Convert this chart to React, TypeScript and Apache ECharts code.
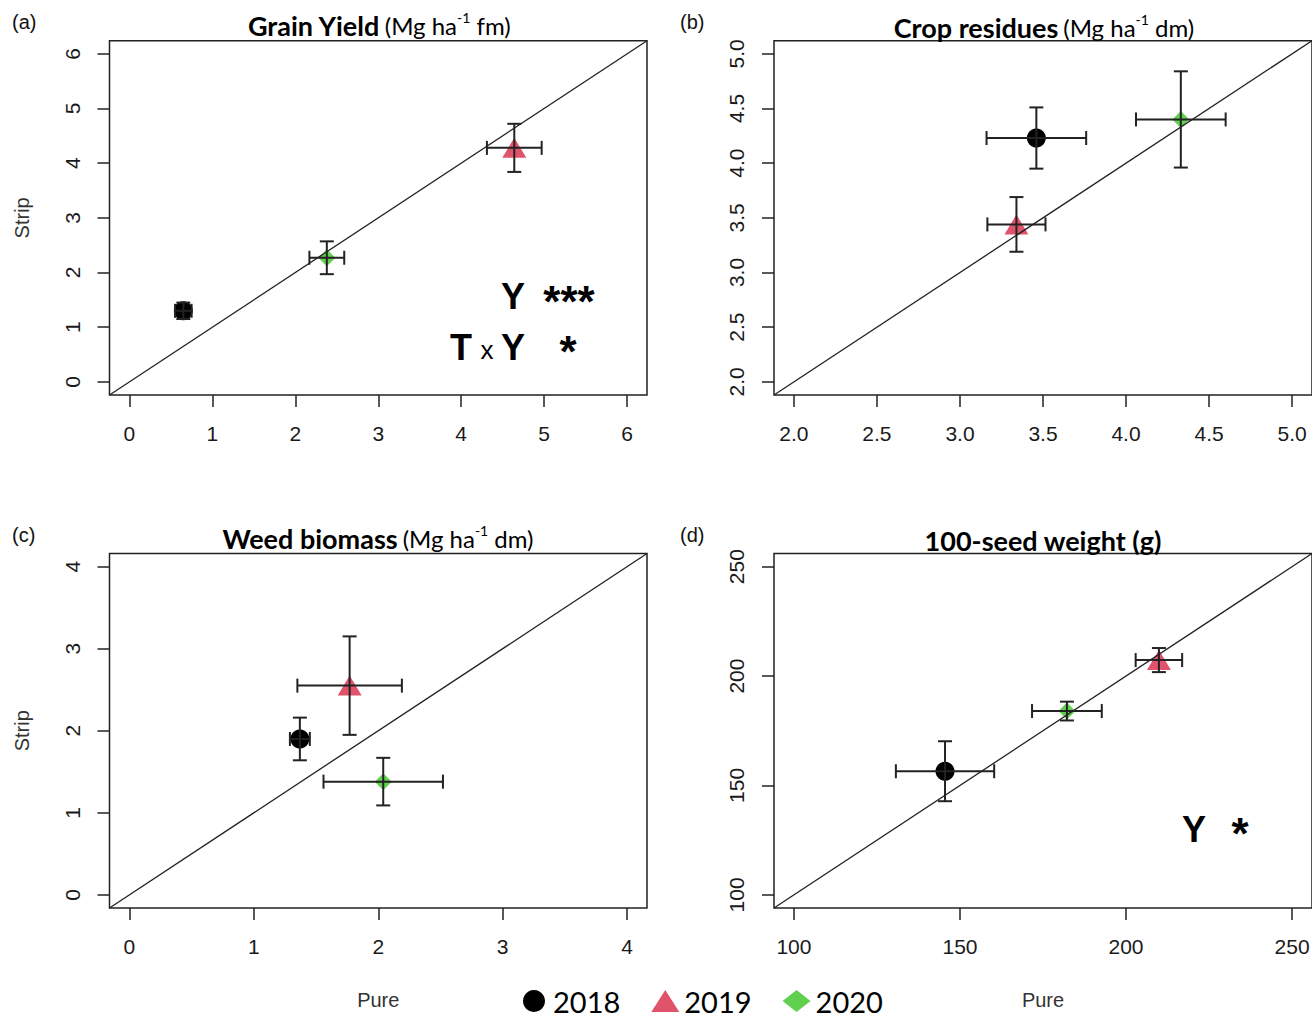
import React, { useEffect, useRef } from "react";
import * as echarts from "echarts";

// ---------------- DATA ----------------
const YEARS = ["2018", "2019", "2020"];
const YEAR_COLORS = ["#000000", "#DF536B", "#61D04F"];
const YEAR_SYMBOLS = ["circle", "triangle", "diamond"];

// (a) Grain yield (Mg ha-1 fm)
const grainPure = [0.65, 4.64, 2.38];
const grainStrip = [1.3, 4.28, 2.27];
const grainPureErr = [0.1, 0.33, 0.21];
const grainStripErr = [0.15, 0.44, 0.3];
const grainTicks = [0, 1, 2, 3, 4, 5, 6];

// (b) Crop residues (Mg ha-1 dm)
const residuePure = [3.46, 3.34, 4.33];
const residueStrip = [4.23, 3.44, 4.4];
const residuePureErr = [0.3, 0.175, 0.27];
const residueStripErr = [0.28, 0.25, 0.44];
const residueTicks = [2.0, 2.5, 3.0, 3.5, 4.0, 4.5, 5.0];

// (c) Weed biomass (Mg ha-1 dm)
const weedPure = [1.37, 1.77, 2.04];
const weedStrip = [1.9, 2.55, 1.38];
const weedPureErr = [0.08, 0.42, 0.48];
const weedStripErr = [0.26, 0.6, 0.29];
const weedTicks = [0, 1, 2, 3, 4];

// (d) 100-seed weight (g)
const seedPure = [145.5, 209.9, 182.2];
const seedStrip = [156.5, 207.3, 184.0];
const seedPureErr = [14.8, 7, 10.5];
const seedStripErr = [13.7, 5.5, 4.3];
const seedTicks = [100, 150, 200, 250];

// ---------------- LAYOUT / STYLE ----------------
const FONT = "'Liberation Sans', Arial, sans-serif";
const TITLE_FONT = "Lato, 'Noto Sans', sans-serif";
const INK = "#222";

const panels = [
  {
    title: "{b|Grain Yield} {n|(Mg ha}{s|-1}{n| fm)}",
    titleX: 379, titleTop: 10, tag: "(a)",
    pure: grainPure, strip: grainStrip, pureErr: grainPureErr, stripErr: grainStripErr,
    ticks: grainTicks, decimals: 0,
    grid: { left: 109.5, top: 40.7, width: 537.5, height: 354.3 },
    yName: "Strip", xName: "",
  },
  {
    title: "{b|Crop residues} {n|(Mg ha}{s|-1}{n| dm)}",
    titleX: 1044, titleTop: 12, tag: "(b)",
    pure: residuePure, strip: residueStrip, pureErr: residuePureErr, stripErr: residueStripErr,
    ticks: residueTicks, decimals: 1,
    grid: { left: 774, top: 40.7, width: 538, height: 354.3 },
    yName: "", xName: "",
  },
  {
    title: "{b|Weed biomass} {n|(Mg ha}{s|-1}{n| dm)}",
    titleX: 378, titleTop: 523, tag: "(c)",
    pure: weedPure, strip: weedStrip, pureErr: weedPureErr, stripErr: weedStripErr,
    ticks: weedTicks, decimals: 0,
    grid: { left: 109.5, top: 553.5, width: 537.5, height: 354.5 },
    yName: "Strip", xName: "Pure",
  },
  {
    title: "{b|100-seed weight (g)}",
    titleX: 1043, titleTop: 525, tag: "(d)",
    pure: seedPure, strip: seedStrip, pureErr: seedPureErr, stripErr: seedStripErr,
    ticks: seedTicks, decimals: 0,
    grid: { left: 774, top: 553.5, width: 538, height: 354.5 },
    yName: "", xName: "Pure",
  },
];

const tagPos = [
  [12, 22],
  [680, 22],
  [12, 535],
  [680, 535],
];

function extent(ticks: number[]) {
  const lo = ticks[0];
  const hi = ticks[ticks.length - 1];
  const pad = (hi - lo) * 0.04;
  return [lo - pad, hi + pad];
}

const errorRender = (params: any, api: any) => {
  const x = api.value(0);
  const y = api.value(1);
  const ex = api.value(2);
  const ey = api.value(3);
  const l = api.coord([x - ex, y]);
  const r = api.coord([x + ex, y]);
  const t = api.coord([x, y + ey]);
  const b = api.coord([x, y - ey]);
  const c = 7;
  const style = { stroke: INK, lineWidth: 2 };
  const ln = (x1: number, y1: number, x2: number, y2: number) => ({
    type: "line",
    shape: { x1, y1, x2, y2 },
    style,
  });
  return {
    type: "group",
    children: [
      ln(l[0], l[1], r[0], r[1]),
      ln(l[0], l[1] - c, l[0], l[1] + c),
      ln(r[0], r[1] - c, r[0], r[1] + c),
      ln(t[0], t[1], b[0], b[1]),
      ln(t[0] - c, t[1], t[0] + c, t[1]),
      ln(b[0] - c, b[1], b[0] + c, b[1]),
    ],
  };
};

function buildOption() {
  const grids: any[] = [];
  const xAxes: any[] = [];
  const yAxes: any[] = [];
  const series: any[] = [];
  const titles: any[] = [];

  panels.forEach((p, i) => {
    const [lo, hi] = extent(p.ticks);
    grids.push({
      ...p.grid,
      show: true,
      borderColor: INK,
      borderWidth: 1.5,
      backgroundColor: "transparent",
      containLabel: false,
      outerBoundsMode: "none",
    });
    const fmt = (v: number) => v.toFixed(p.decimals);
    const common = {
      type: "value",
      gridIndex: i,
      min: lo,
      max: hi,
      axisLine: { show: false, onZero: false },
      splitLine: { show: false },
      axisTick: {
        show: true,
        inside: false,
        length: 12,
        customValues: p.ticks,
        lineStyle: { color: INK, width: 1.5 },
      },
      nameLocation: "middle",
      nameTextStyle: { fontFamily: FONT, fontSize: 20, color: "#333" },
    };
    xAxes.push({
      ...common,
      position: "bottom",
      name: p.xName,
      nameGap: 82,
      axisLabel: {
        customValues: p.ticks,
        formatter: fmt,
        margin: 28,
        fontFamily: FONT,
        fontSize: 21,
        color: "#1a1a1a",
      },
    });
    yAxes.push({
      ...common,
      position: "left",
      name: p.yName,
      nameGap: 78,
      nameRotate: 90,
      axisLabel: {
        customValues: p.ticks,
        formatter: fmt,
        rotate: 90,
        margin: 27,
        fontFamily: FONT,
        fontSize: 21,
        color: "#1a1a1a",
      },
    });

    titles.push({
      text: p.title,
      left: p.titleX,
      top: p.titleTop,
      textAlign: "center",
      padding: 0,
      textStyle: {
        rich: {
          b: {
            fontFamily: TITLE_FONT,
            fontWeight: "bold",
            fontSize: 27,
            color: "#000",
            lineHeight: 30,
          },
          n: {
            fontFamily: TITLE_FONT,
            fontWeight: "normal",
            fontSize: 24,
            color: "#000",
            lineHeight: 30,
          },
          s: {
            fontFamily: TITLE_FONT,
            fontWeight: "normal",
            fontSize: 14,
            color: "#000",
            verticalAlign: "top",
          },
        },
      },
    });

    // markers
    YEARS.forEach((yr, j) => {
      series.push({
        type: "scatter",
        name: yr,
        xAxisIndex: i,
        yAxisIndex: i,
        data: [[p.pure[j], p.strip[j]]],
        symbol: YEAR_SYMBOLS[j],
        symbolSize: j === 0 ? 19 : j === 1 ? [24, 20] : [17, 17],
        itemStyle: { color: YEAR_COLORS[j], opacity: 1 },
        z: 2,
        silent: true,
      });
    });

    // 1:1 line
    series.push({
      type: "line",
      xAxisIndex: i,
      yAxisIndex: i,
      data: [
        [lo, lo],
        [hi, hi],
      ],
      symbol: "none",
      lineStyle: { color: INK, width: 1.3 },
      z: 3,
      silent: true,
    });

    // error bars
    series.push({
      type: "custom",
      xAxisIndex: i,
      yAxisIndex: i,
      data: p.pure.map((x, j) => [x, p.strip[j], p.pureErr[j], p.stripErr[j]]),
      encode: { x: 0, y: 1 },
      renderItem: errorRender,
      z: 4,
      silent: true,
    });
  });

  const tagTexts = panels.map((p, i) => ({
    type: "text",
    x: tagPos[i][0],
    y: tagPos[i][1],
    style: {
      text: p.tag,
      font: `20px ${FONT}`,
      fill: "#111",
      textAlign: "left",
      textVerticalAlign: "middle",
    },
  }));

  const stat = (text: string, x: number, y: number, size: number, bold = true) => ({
    type: "text",
    x,
    y,
    z: 10,
    style: {
      text,
      font: `${bold ? "bold " : ""}${size}px ${FONT}`,
      fill: "#000",
      textAlign: "center",
      textVerticalAlign: "middle",
    },
  });

  return {
    animation: false,
    backgroundColor: "#fff",
    title: titles,
    grid: grids,
    xAxis: xAxes,
    yAxis: yAxes,
    legend: {
      data: [
        { name: "2018", icon: "circle" },
        { name: "2019", icon: "triangle" },
        { name: "2020", icon: "diamond" },
      ],
      left: 523,
      top: 986,
      itemWidth: 28,
      itemHeight: 22,
      itemGap: 31,
      selectedMode: false,
      padding: 0,
      textStyle: {
        fontFamily: TITLE_FONT,
        fontSize: 29,
        lineHeight: 30,
        color: "#000",
        padding: [0, 0, 0, 0],
      },
    },
    graphic: [
      ...tagTexts,
      stat("Y", 513, 296, 36),
      stat("***", 569, 301, 44),
      stat("T", 461, 347, 36),
      stat("x", 487, 350, 26, false),
      stat("Y", 513, 347, 36),
      stat("*", 568, 351, 44),
      stat("Y", 1194, 829, 36),
      stat("*", 1240, 833, 44),
    ],
    series,
  };
}

export default function App() {
  const ref = useRef<HTMLDivElement>(null);
  useEffect(() => {
    if (!ref.current) return;
    const chart = echarts.init(ref.current, null, { renderer: "svg" });
    chart.setOption(buildOption() as any);
    return () => chart.dispose();
  }, []);
  return (
    <div
      ref={ref}
      style={{ position: "absolute", left: 0, top: 0, width: 1312, height: 1020 }}
    />
  );
}
